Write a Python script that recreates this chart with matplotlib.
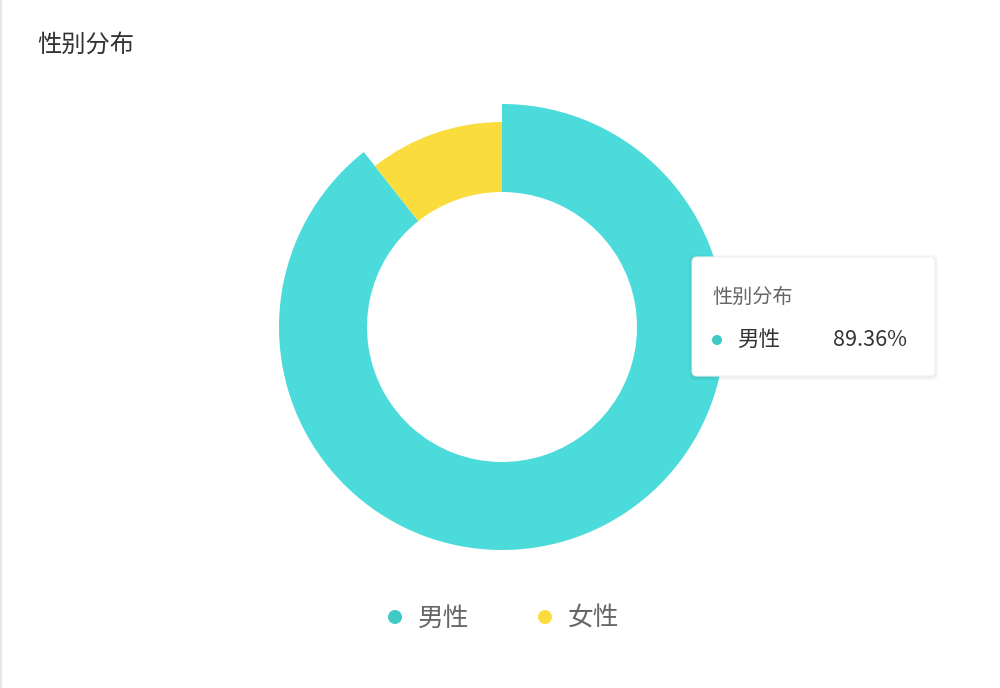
import matplotlib.pyplot as plt
from matplotlib.patches import FancyBboxPatch, Circle

plt.rcParams['font.family'] = ['Noto Sans CJK SC', 'DejaVu Sans']

# data
labels = ['男性', '女性']
values = [89.36, 10.64]
slice_colors = ['#4adbda', '#fadc3c']
legend_colors = ['#40c9c6', '#fadc3c']
title = '性别分布'

W, H = 1000, 688
fig = plt.figure(figsize=(W / 100, H / 100), dpi=100)
ax = fig.add_axes([0, 0, 1, 1])
ax.set_xlim(0, W)
ax.set_ylim(0, H)
ax.set_aspect('equal')
ax.axis('off')

# left border line of the card
ax.plot([1, 1], [0, H], color='#e6e6e6', lw=1.5)

# donut, the first slice (hovered) drawn bigger
cx, cy = 502, H - 327
r_in, r_out, r_hover = 135, 205, 223
wedges, _ = ax.pie(values, colors=slice_colors, startangle=90, counterclock=False,
                   center=(cx, cy), radius=r_out,
                   wedgeprops=dict(width=r_out - r_in, linewidth=0))
wedges[0].set_radius(r_hover)
wedges[0].set_width(r_hover - r_in)
ax.set_xlim(0, W)
ax.set_ylim(0, H)

# title
ax.text(37, H - 45, title, fontsize=17.5, color='#333333', va='center', ha='left')

# legend
for i, (lab, col) in enumerate(zip(labels, legend_colors)):
    x0 = 395 + i * 150
    ax.add_patch(Circle((x0, H - 617), 7, color=col, lw=0))
    ax.text(x0 + 23, H - 619, lab, fontsize=18.5, color='#666666', va='center', ha='left')

# tooltip
bx0, by0, bx1, by1 = 692, 257, 935, 376
for k in range(6, 0, -1):
    ax.add_patch(FancyBboxPatch((bx0 - k * 0.6, H - by1 - k * 0.6 - 1),
                                bx1 - bx0 + k * 1.2, by1 - by0 + k * 1.2,
                                boxstyle='round,pad=0,rounding_size=6',
                                fc='black', ec='none', alpha=0.012, zorder=4))
ax.add_patch(FancyBboxPatch((bx0, H - by1), bx1 - bx0, by1 - by0,
                            boxstyle='round,pad=0,rounding_size=5',
                            fc='white', ec='#f2f2f2', lw=0.8, zorder=5))
ax.text(712, H - 297, title, fontsize=14.5, color='#666666', va='center', ha='left', zorder=6)
ax.add_patch(Circle((717, H - 340), 5, color=legend_colors[0], lw=0, zorder=6))
ax.text(737, H - 340, labels[0], fontsize=15.5, color='#333333', va='center', ha='left', zorder=6)
ax.text(907, H - 340, f'{values[0]:.2f}%', fontsize=15.5, color='#333333', va='center', ha='right',
        zorder=6)

fig.savefig('out.png', dpi=100)
